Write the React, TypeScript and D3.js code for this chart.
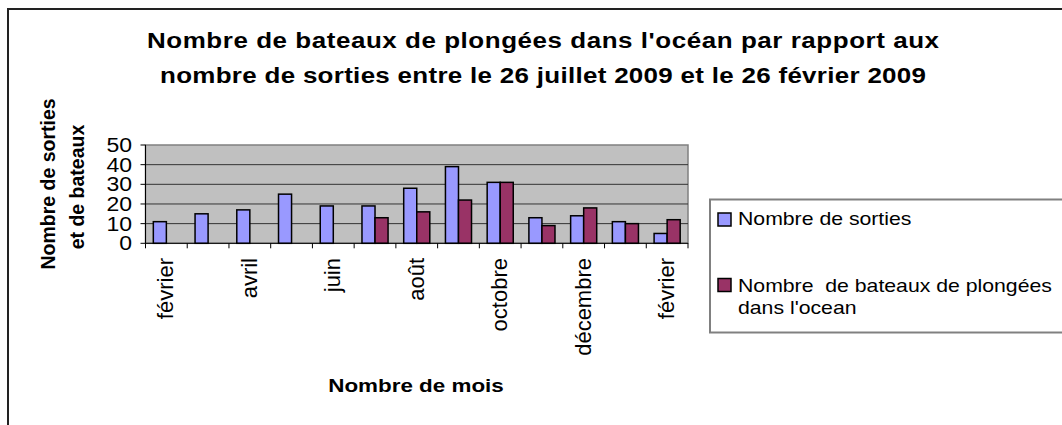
import React from 'react';
import * as d3 from 'd3';

// months (13 categories, one label every second month)
const months = ['février', 'mars', 'avril', 'mai', 'juin', 'juillet', 'août', 'septembre', 'octobre', 'novembre', 'décembre', 'janvier', 'février'];
const sorties = [11, 15, 17, 25, 19, 19, 28, 39, 31, 13, 14, 11, 5];
const bateaux: (number | null)[] = [null, null, null, null, null, 13, 16, 22, 31, 9, 18, 10, 12];
const yTicks = [0, 10, 20, 30, 40, 50];
const seriesNames = ['Nombre de sorties', 'Nombre  de bateaux de plongées'];
const colors = ['#9999FF', '#993366'];

const titleLines = [
  "Nombre de bateaux de plongées dans l'océan par rapport aux",
  'nombre de sorties entre le 26 juillet 2009 et le 26 février 2009',
];

const FONT = '"Liberation Sans", Arial, sans-serif';
const SX = 1.18; // horizontal texts in the picture are wider than tall

function HText(props: any) {
  const { x, y, size, weight, anchor, len, children } = props;
  return (
    <text
      transform={`translate(${x},${y}) scale(${SX},1)`}
      fontSize={size}
      fontWeight={weight || 'normal'}
      textAnchor={anchor || 'start'}
      textLength={len ? len / SX : undefined}
      lengthAdjust="spacing"
      style={{ whiteSpace: 'pre' }}
      fill="#000"
    >
      {children}
    </text>
  );
}

function VText(props: any) {
  const { x, y, size, weight, anchor, children } = props;
  return (
    <text
      transform={`translate(${x},${y}) rotate(-90)`}
      fontSize={size}
      fontWeight={weight || 'normal'}
      textAnchor={anchor || 'middle'}
      fill="#000"
    >
      {children}
    </text>
  );
}

export default function App() {
  const width = 1062, height = 425;
  const left = 145.5, right = 688, top = 145, bottom = 243.3;

  const x = d3.scaleBand<number>().domain(d3.range(months.length)).range([left, right]).padding(0);
  const inner = d3.scaleBand<number>().domain([0, 1]).range([0, x.bandwidth()]).paddingInner(0).paddingOuter(0.6);
  const y = d3.scaleLinear().domain([0, 50]).range([bottom, top]);

  const series = [sorties, bateaux];

  return (
    <svg width={width} height={height} style={{ position: 'absolute', left: 0, top: 0 }} fontFamily={FONT}>
      <rect x={0} y={0} width={width} height={height} fill="#fff" />
      {/* chart frame */}
      <rect x={8} y={9} width={width + 20} height={height + 20} fill="none" stroke="#222" strokeWidth={2} />

      {titleLines.map((t, i) => (
        <HText key={i} x={543} y={48 + i * 35} size={22} weight="bold" anchor="middle" len={i === 0 ? 792 : 766}>
          {t}
        </HText>
      ))}

      {/* plot area */}
      <rect x={left} y={top} width={right - left} height={bottom - top} fill="#C0C0C0" stroke="#808080" strokeWidth={1.5} />
      {yTicks.slice(1, -1).map(t => (
        <line key={t} x1={left} x2={right} y1={y(t)} y2={y(t)} stroke="#333" strokeWidth={1} />
      ))}

      {/* bars */}
      {series.map((s, si) =>
        s.map((v, i) =>
          v == null ? null : (
            <rect
              key={si + '-' + i}
              x={(x(i) as number) + (inner(si) as number)}
              y={y(v)}
              width={inner.bandwidth()}
              height={y(0) - y(v)}
              fill={colors[si]}
              stroke="#000"
              strokeWidth={1.5}
            />
          )
        )
      )}

      {/* y axis */}
      <line x1={left} x2={left} y1={top} y2={bottom} stroke="#000" strokeWidth={1} />
      {yTicks.map(t => (
        <g key={t}>
          <line x1={left - 5} x2={left} y1={y(t)} y2={y(t)} stroke="#000" strokeWidth={1} />
          <HText x={132} y={y(t) + 7} size={19.5} anchor="end">{t}</HText>
        </g>
      ))}

      {/* x axis */}
      <line x1={left} x2={right} y1={bottom} y2={bottom} stroke="#000" strokeWidth={1} />
      {d3.range(months.length + 1).map(i => {
        const px = left + i * x.step();
        return <line key={i} x1={px} x2={px} y1={bottom} y2={bottom + 5} stroke="#000" strokeWidth={1} />;
      })}
      {months.map((m, i) =>
        i % 2 === 0 ? (
          <VText key={i} x={(x(i) as number) + x.bandwidth() / 2 + 7} y={258} size={22} anchor="end">
            {m}
          </VText>
        ) : null
      )}

      {/* axis titles */}
      <VText x={55} y={184} size={19.5} weight="bold">Nombre de sorties</VText>
      <VText x={84} y={187} size={19.5} weight="bold">et de bateaux</VText>
      <HText x={416} y={392} size={19} weight="bold" anchor="middle">Nombre de mois</HText>

      {/* legend */}
      <rect x={710} y={199.5} width={420} height={133} fill="#fff" stroke="#808080" strokeWidth={2} />
      <rect x={718} y={213} width={13} height={13} fill={colors[0]} stroke="#000" strokeWidth={1.5} />
      <HText x={738} y={225} size={18}>{seriesNames[0]}</HText>
      <rect x={718} y={278.5} width={13} height={13} fill={colors[1]} stroke="#000" strokeWidth={1.5} />
      <HText x={738} y={292} size={18}>{seriesNames[1]}</HText>
      <HText x={738} y={314} size={18}>dans l'ocean</HText>
    </svg>
  );
}
